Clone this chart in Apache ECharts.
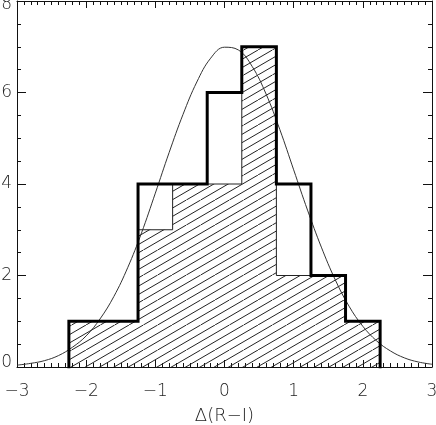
<!DOCTYPE html>
<html>
<head>
<meta charset="utf-8">
<script src="https://cdn.jsdelivr.net/npm/echarts@6/dist/echarts.min.js"></script>
<style>
html,body{margin:0;padding:0;background:#fff;}
#chart{width:436px;height:425px;}
</style>
</head>
<body>
<div id="chart"></div>
<script>
// ---- data ----
const binEdges = [-2.25, -1.75, -1.25, -0.75, -0.25, 0.25, 0.75, 1.25, 1.75, 2.25];
const totalCounts = [1, 1, 4, 4, 6, 7, 4, 2, 1];
const hatchCounts = [1, 1, 3, 4, 4, 7, 2, 2, 1];

const curveX = [-3.0, -2.8, -2.6, -2.4, -2.2, -2.0, -1.8, -1.6, -1.4, -1.2, -1.0, -0.8, -0.6, -0.4, -0.2,
                0.0, 0.2, 0.4, 0.6, 0.8, 1.0, 1.2, 1.4, 1.6, 1.8, 2.0, 2.2, 2.4, 2.6, 2.8, 3.0];
const curveY = [0.04, 0.08, 0.14, 0.25, 0.43, 0.68, 1.05, 1.54, 2.17, 2.93, 3.80, 4.69, 5.52, 6.23, 6.75,
                6.99, 6.93, 6.57, 5.97, 5.19, 4.31, 3.43, 2.62, 1.91, 1.33, 0.89, 0.57, 0.35, 0.20, 0.11, 0.06];

const xTicks = [-3, -2, -1, 0, 1, 2, 3];
const yTicks = [0, 2, 4, 6, 8];
const xTitle = 'Δ(R−I)';

// ---- helpers ----
function stepData(edges, counts) {
  const d = [[edges[0], 0]];
  counts.forEach((c, i) => d.push([edges[i], c]));
  d.push([edges[edges.length - 1], counts[counts.length - 1]]);
  d.push([edges[edges.length - 1], 0]);
  return d;
}
function hatchPattern() {
  const W = 43, H = 25;
  const c = document.createElement('canvas');
  c.width = W; c.height = H;
  const ctx = c.getContext('2d');
  ctx.strokeStyle = '#222';
  ctx.lineWidth = 1;
  for (let j = -4; j <= 4; j++) {
    ctx.beginPath();
    ctx.moveTo(j * W / 3, H);
    ctx.lineTo(j * W / 3 + W, 0);
    ctx.stroke();
  }
  return c;
}
const fmtMinus = v => String(v).replace('-', '−');
const labelFont = { fontFamily: 'DejaVu Sans', fontWeight: 200, fontSize: 17, color: '#222' };
const tickColor = '#111';

const chart = echarts.init(document.getElementById('chart'), null, { renderer: 'canvas' });

function xAxisDef(pos) {
  return {
    type: 'value', min: xTicks[0], max: xTicks[xTicks.length - 1], interval: 1,
    position: pos,
    axisLine: { show: true, onZero: false, lineStyle: { color: tickColor, width: 1 } },
    axisTick: { show: true, inside: true, length: 7, lineStyle: { color: tickColor, width: 1 } },
    minorTick: { show: true, splitNumber: 10, length: 4, lineStyle: { color: tickColor, width: 1 } },
    axisLabel: { show: false },
    splitLine: { show: false }, minorSplitLine: { show: false }
  };
}
function yAxisDef(pos) {
  return {
    type: 'value', min: yTicks[0], max: yTicks[yTicks.length - 1], interval: 2,
    position: pos,
    axisLine: { show: true, onZero: false, lineStyle: { color: tickColor, width: 1 } },
    axisTick: { show: true, inside: true, length: 9, lineStyle: { color: tickColor, width: 1 } },
    minorTick: { show: true, splitNumber: 4, length: 4, lineStyle: { color: tickColor, width: 1 } },
    axisLabel: { show: false },
    splitLine: { show: false }, minorSplitLine: { show: false }
  };
}

const xMain = xAxisDef('bottom');
xMain.axisLabel = Object.assign({ show: true, margin: 16, lineHeight: 17, formatter: fmtMinus }, labelFont);
xMain.name = xTitle;
xMain.nameLocation = 'middle';
xMain.nameGap = 40;
xMain.nameTextStyle = { fontFamily: 'DejaVu Sans', fontWeight: 200, fontSize: 18, color: '#222', lineHeight: 18 };

const yMain = yAxisDef('left');
yMain.axisLabel = Object.assign({ show: true, margin: 5, lineHeight: 8,
  verticalAlignMinLabel: 'bottom', verticalAlignMaxLabel: 'top' }, labelFont);

chart.setOption({
  animation: false,
  backgroundColor: '#fff',
  grid: { left: 17, right: 4, top: 1, bottom: 58, containLabel: false, outerBoundsMode: 'none' },
  xAxis: [ xMain, xAxisDef('top') ],
  yAxis: [ yMain, yAxisDef('right') ],
  series: [
    {
      type: 'line', step: 'end', data: stepData(binEdges, hatchCounts),
      xAxisIndex: 0, yAxisIndex: 0,
      showSymbol: false, symbol: 'none', z: 2,
      lineStyle: { color: '#222', width: 1 },
      areaStyle: { color: { image: hatchPattern(), repeat: 'repeat' }, opacity: 1 }
    },
    {
      type: 'line', data: curveX.map((x, i) => [x, curveY[i]]),
      xAxisIndex: 0, yAxisIndex: 0,
      smooth: 0.4, showSymbol: false, symbol: 'none', z: 3,
      lineStyle: { color: '#333', width: 1 }
    },
    {
      type: 'line', step: 'end', data: stepData(binEdges, totalCounts),
      xAxisIndex: 1, yAxisIndex: 1,
      showSymbol: false, symbol: 'none', z: 4,
      lineStyle: { color: '#000', width: 3, join: 'miter', cap: 'square' }
    }
  ]
});
</script>
</body>
</html>
